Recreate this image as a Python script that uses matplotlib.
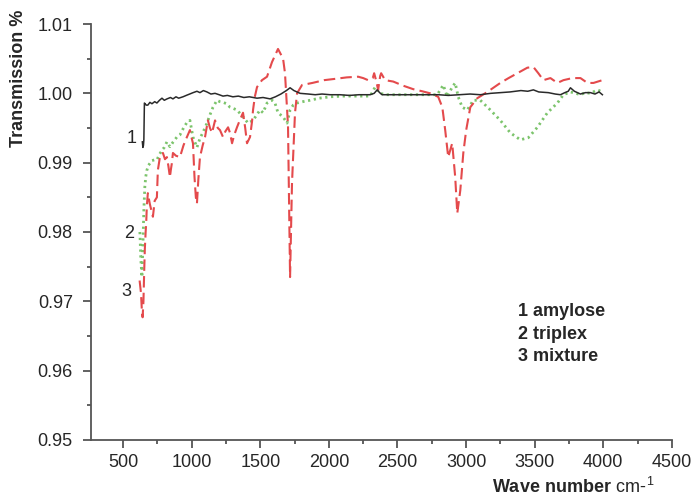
import matplotlib
matplotlib.use("Agg")
import matplotlib.pyplot as plt
from matplotlib.ticker import MultipleLocator

plt.rcParams["font.family"] = ["Liberation Sans", "DejaVu Sans"]
plt.rcParams["mathtext.fontset"] = "custom"
plt.rcParams["mathtext.rm"] = "Liberation Sans"
plt.rcParams["mathtext.bf"] = "Liberation Sans:bold"

# 1 amylose (solid black)
amylose_x = [640, 644, 648, 651, 655, 660, 668, 680, 695, 710, 730, 746, 765, 783, 800,
             820, 845, 863, 885, 905, 936, 960, 985, 1010, 1038, 1060, 1085, 1111, 1140,
             1170, 1200, 1228, 1260, 1300, 1340, 1380, 1420, 1476, 1520, 1571, 1610, 1650,
             1690, 1717, 1745, 1790, 1850, 1900, 1950, 2009, 2080, 2150, 2220, 2301, 2330,
             2352, 2370, 2388, 2450, 2520, 2600, 2680, 2750, 2800, 2870, 2950, 3030, 3104,
             3180, 3250, 3320, 3400, 3450, 3491, 3530, 3600, 3650, 3688, 3720, 3745, 3761,
             3790, 3834, 3870, 3907, 3940, 3970, 3994]
amylose_t = [0.9930, 0.9922, 0.9925, 0.9933, 0.9986, 0.9985, 0.9983, 0.9983, 0.9987, 0.9985,
             0.9988, 0.9986, 0.9990, 0.9993, 0.9990, 0.9992, 0.9994, 0.9992, 0.9995, 0.9993,
             0.9995, 0.9997, 0.9999, 1.0001, 1.0003, 1.0001, 1.0004, 1.0002, 0.9999, 1.0000,
             0.9998, 0.9996, 0.9997, 0.9995, 0.9996, 0.9994, 0.9995, 0.9993, 0.9994, 0.9992,
             0.9995, 0.9999, 1.0004, 1.0008, 1.0004, 1.0000, 0.9999, 0.9998, 0.9999, 0.9998,
             0.9998, 0.9997, 0.9998, 0.9998, 1.0000, 1.0005, 1.0001, 0.9998, 0.9998, 0.9998,
             0.9998, 0.9998, 0.9998, 0.9998, 0.9997, 0.9998, 0.9999, 0.9998, 1.0000, 1.0001,
             1.0002, 1.0004, 1.0003, 1.0005, 1.0002, 1.0001, 0.9999, 0.9998, 1.0001, 1.0003,
             1.0008, 1.0003, 0.9999, 1.0001, 1.0001, 0.9999, 1.0002, 0.9998]

# 2 triplex (green dots)
triplex_x = [622, 629, 637, 644, 651, 658, 665, 673, 684, 695, 710, 728, 746, 765, 783, 800,
             819, 841, 865, 892, 914, 940, 965, 987, 1009, 1038, 1060, 1085, 1111, 1135, 1155,
             1184, 1205, 1228, 1255, 1279, 1305, 1330, 1374, 1411, 1447, 1498, 1520, 1549,
             1586, 1607, 1629, 1666, 1695, 1717, 1740, 1768, 1810, 1863, 1930, 2009, 2100,
             2206, 2301, 2337, 2374, 2420, 2500, 2600, 2700, 2790, 2834, 2863, 2899, 2921,
             2943, 2972, 3009, 3053, 3104, 3177, 3250, 3323, 3396, 3454, 3520, 3593, 3666,
             3710, 3761, 3800, 3834, 3870, 3907, 3958, 3994]
triplex_t = [0.9800, 0.9760, 0.9735, 0.9780, 0.9832, 0.9865, 0.9880, 0.9889, 0.9896, 0.9899,
             0.9903, 0.9904, 0.9904, 0.9912, 0.9918, 0.9922, 0.9930, 0.9923, 0.9930, 0.9937,
             0.9940, 0.9950, 0.9958, 0.9961, 0.9937, 0.9922, 0.9935, 0.9945, 0.9957, 0.9970,
             0.9980, 0.9990, 0.9988, 0.9987, 0.9985, 0.9980, 0.9978, 0.9976, 0.9966, 0.9957,
             0.9961, 0.9976, 0.9972, 0.9986, 0.9990, 0.9986, 0.9972, 0.9966, 0.9957, 0.9976,
             0.9983, 0.9986, 0.9988, 0.9990, 0.9993, 0.9995, 0.9996, 0.9996, 0.9996, 1.0009,
             1.0000, 0.9998, 0.9998, 0.9998, 0.9998, 0.9998, 1.0012, 0.9995, 1.0009, 1.0015,
             0.9995, 0.9980, 0.9976, 0.9990, 0.9990, 0.9976, 0.9961, 0.9943, 0.9933, 0.9936,
             0.9951, 0.9972, 0.9986, 0.9998, 1.0002, 1.0000, 0.9998, 1.0001, 1.0000, 1.0005,
             1.0002]

# 3 mixture (red dashes)
mixture_x = [620, 630, 637, 642, 648, 653, 658, 664, 668, 673, 680, 695, 717, 730, 746, 753,
             768, 790, 805, 819, 830, 841, 848, 855, 863, 885, 914, 940, 965, 987, 1000, 1009,
             1020, 1030, 1038, 1048, 1060, 1080, 1097, 1118, 1133, 1148, 1170, 1190, 1206,
             1228, 1245, 1265, 1279, 1294, 1310, 1330, 1352, 1374, 1390, 1403, 1425, 1440,
             1447, 1460, 1476, 1512, 1549, 1585, 1629, 1645, 1666, 1680, 1702, 1717, 1731,
             1753, 1768, 1804, 1880, 1965, 2050, 2130, 2213, 2250, 2286, 2320, 2330, 2345,
             2359, 2374, 2381, 2410, 2469, 2542, 2615, 2680, 2739, 2797, 2827, 2848, 2870,
             2899, 2921, 2936, 2958, 2980, 3001, 3031, 3082, 3155, 3250, 3310, 3374, 3447,
             3491, 3527, 3564, 3615, 3666, 3710, 3775, 3834, 3885, 3929, 3994]
mixture_t = [0.9730, 0.9712, 0.9685, 0.9677, 0.9700, 0.9740, 0.9775, 0.9800, 0.9813, 0.9838,
             0.9856, 0.9840, 0.9822, 0.9845, 0.9850, 0.9889, 0.9908, 0.9914, 0.9905, 0.9908,
             0.9895, 0.9879, 0.9890, 0.9899, 0.9914, 0.9910, 0.9908, 0.9925, 0.9937, 0.9947,
             0.9935, 0.9928, 0.9880, 0.9850, 0.9841, 0.9875, 0.9908, 0.9925, 0.9937, 0.9961,
             0.9950, 0.9943, 0.9961, 0.9950, 0.9947, 0.9937, 0.9945, 0.9951, 0.9943, 0.9928,
             0.9940, 0.9951, 0.9962, 0.9972, 0.9950, 0.9928, 0.9937, 0.9960, 0.9976, 0.9995,
             1.0009, 1.0019, 1.0024, 1.0045, 1.0064, 1.0058, 1.0050, 1.0029, 0.9953, 0.9735,
             0.9870, 0.9972, 1.0000, 1.0012, 1.0015, 1.0019, 1.0021, 1.0023, 1.0024, 1.0022,
             1.0019, 1.0022, 1.0029, 1.0018, 1.0005, 1.0025, 1.0029, 1.0019, 1.0017, 1.0011,
             1.0006, 1.0003, 1.0000, 0.9995, 0.9980, 0.9947, 0.9908, 0.9928, 0.9879, 0.9827,
             0.9860, 0.9914, 0.9947, 0.9980, 0.9993, 1.0002, 1.0015, 1.0022, 1.0029, 1.0037,
             1.0038, 1.0029, 1.0019, 1.0022, 1.0015, 1.0019, 1.0022, 1.0022, 1.0015, 1.0015,
             1.0019]

legend_lines = ["1 amylose", "2 triplex", "3 mixture"]
# curve numbers placed next to the start of each spectrum
curve_tags = [("1", 596, 0.99355), ("2", 578, 0.97984), ("3", 563, 0.97147)]

AXIS_GRAY = "#555555"
TEXT_COLOR = "#262626"

fig = plt.figure(figsize=(6.94, 4.97), dpi=100)
ax = fig.add_axes([0.131, 0.1147, 0.837, 0.837])

ax.plot(triplex_x, triplex_t, color="#7cc46c", lw=2.0, linestyle=(0, (0.8, 1.3)))
ax.plot(mixture_x, mixture_t, color="#e44a4c", lw=1.5, linestyle=(0, (5.5, 2.5)))
ax.plot(amylose_x, amylose_t, color="#2a2a2a", lw=1.1)

for tag, x, y in curve_tags:
    ax.text(x, y, tag, fontsize=13, ha="right", va="center", color=TEXT_COLOR)

for i, line in enumerate(legend_lines):
    ax.text(0.735, 0.3077 - i * 0.0535, line, transform=ax.transAxes,
            fontsize=13, fontweight="bold", va="center", color=TEXT_COLOR)

ax.set_xlim(265, 4500)
ax.set_ylim(0.95, 1.01)
ax.xaxis.set_minor_locator(MultipleLocator(250))
ax.yaxis.set_minor_locator(MultipleLocator(0.005))
ax.set_xticks(range(500, 4501, 500))
ax.set_yticks([0.95, 0.96, 0.97, 0.98, 0.99, 1.00, 1.01])
ax.set_yticklabels(["0.95", "0.96", "0.97", "0.98", "0.99", "1.00", "1.01"])

for side in ["top", "right"]:
    ax.spines[side].set_visible(False)
for side in ["left", "bottom"]:
    ax.spines[side].set_color(AXIS_GRAY)
    ax.spines[side].set_linewidth(1.3)

ax.tick_params(which="major", length=6, width=1.3, color=AXIS_GRAY, labelsize=13,
               labelcolor=TEXT_COLOR)
ax.tick_params(which="minor", length=3, width=1.3, color=AXIS_GRAY)
ax.tick_params(axis="y", which="major", pad=7)
ax.tick_params(axis="x", which="major", pad=4)

fig.text(0.709, 0.008, r"$\mathbf{Wave\ number}$ cm-$^{1}$", fontsize=13,
         ha="left", va="baseline", color=TEXT_COLOR)
fig.text(0.026, 0.843, "Transmission %", fontsize=13, fontweight="bold",
         rotation=90, ha="center", va="center", color=TEXT_COLOR)

fig.savefig("out.png", dpi=100, facecolor="white")
